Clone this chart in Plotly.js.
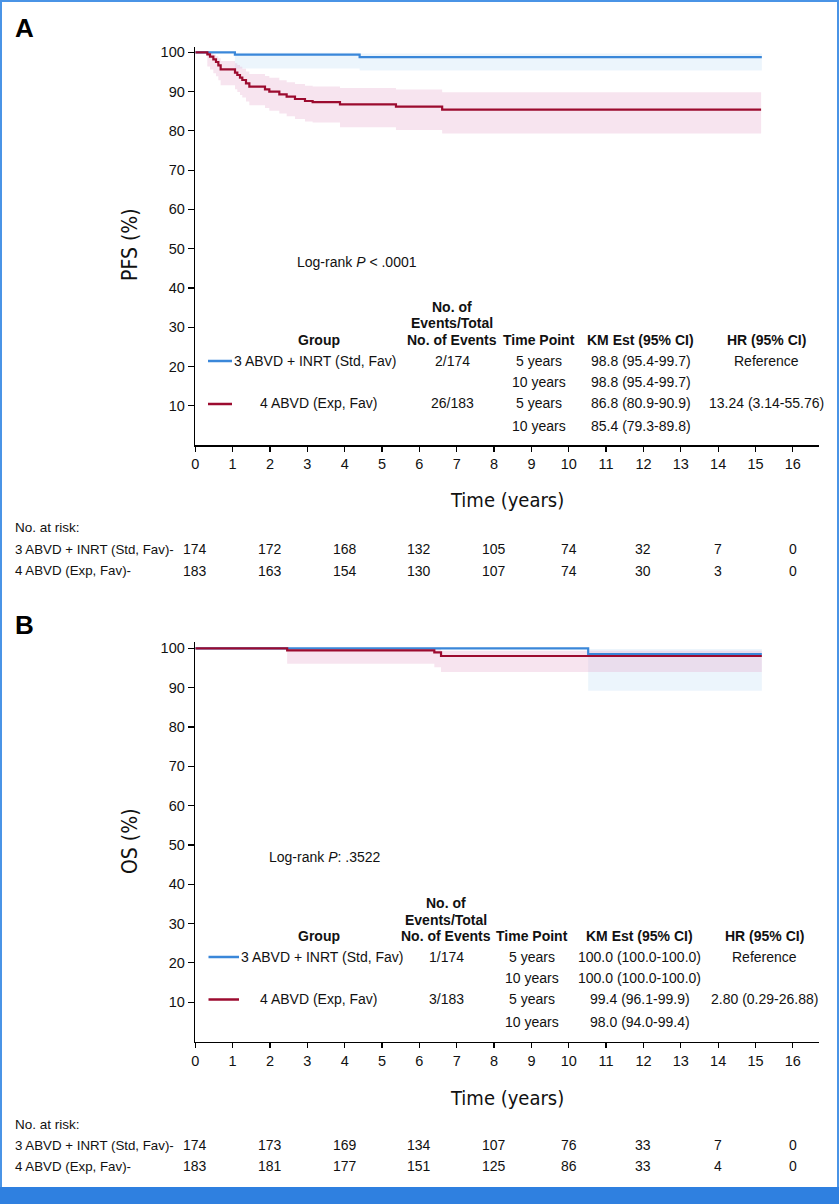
<!DOCTYPE html>
<html>
<head>
<meta charset="utf-8">
<script src="https://cdn.plot.ly/plotly-3.0.1.min.js"></script>
<style>html,body{margin:0;padding:0;background:#fff;}#chart{width:839px;height:1204px;}</style>
</head>
<body>
<div id="chart"></div>
<script>
// ---------- Panel A: PFS ----------
var pfsStdTime = [0, 1.06, 4.40, 15.17];
var pfsStdSurv = [100, 99.4, 98.8, 98.8];
var pfsStdBandTime = [1.06, 4.40, 15.17];
var pfsStdLo = [95.9, 95.4, 95.4];
var pfsStdHi = [99.9, 99.7, 99.7];

var pfsExpTime = [0, 0.322, 0.394, 0.483, 0.554, 0.617, 0.679, 1.063, 1.125, 1.197, 1.259, 1.357, 1.447, 1.866, 1.982, 2.25, 2.446, 2.669, 2.937, 3.142, 3.874, 5.373, 6.61, 15.15];
var pfsExpSurv = [100, 99.48, 98.89, 98.21, 97.53, 96.68, 95.66, 94.81, 94.22, 93.54, 92.95, 92.10, 91.25, 90.57, 89.97, 89.30, 88.70, 88.11, 87.60, 87.34, 86.75, 86.16, 85.4, 85.4];
var pfsExpLo = [100, 96.4, 95.6, 94.7, 93.9, 92.9, 91.6, 90.6, 89.9, 89.1, 88.5, 87.5, 86.5, 85.8, 85.1, 84.4, 83.7, 83.0, 82.4, 82.1, 80.9, 80.2, 79.3, 79.3];
var pfsExpHi = [100, 99.9, 99.7, 99.4, 99.0, 98.5, 97.8, 97.2, 96.8, 96.3, 95.8, 95.1, 94.5, 94.0, 93.5, 92.9, 92.4, 91.9, 91.5, 91.3, 90.9, 90.5, 89.8, 89.8];

// ---------- Panel B: OS ----------
var osStdTime = [0, 10.52, 15.17];
var osStdSurv = [100, 98.55, 98.55];
var osStdBandTime = [10.52, 15.17];
var osStdLo = [89.2, 89.2];
var osStdHi = [99.8, 99.8];

var osExpTime = [0, 2.46, 6.40, 6.58, 15.17];
var osExpSurv = [100, 99.45, 98.95, 98.04, 98.04];
var osExpLo = [100, 96.1, 95.2, 94.0, 94.0];
var osExpHi = [100, 99.9, 99.8, 99.4, 99.4];

// ---------- Numbers at risk ----------
var riskTimes = [0, 2, 4, 6, 8, 10, 12, 14, 16];
var pfsRiskStd = [174, 172, 168, 132, 105, 74, 32, 7, 0];
var pfsRiskExp = [183, 163, 154, 130, 107, 74, 30, 3, 0];
var osRiskStd = [174, 173, 169, 134, 107, 76, 33, 7, 0];
var osRiskExp = [183, 181, 177, 151, 125, 86, 33, 4, 0];

var groupLabels = ['3 ABVD + INRT (Std, Fav)', '4 ABVD (Exp, Fav)'];
var xTicks = [0,1,2,3,4,5,6,7,8,9,10,11,12,13,14,15,16];
var yTicks = [10,20,30,40,50,60,70,80,90,100];

// table texts
var pfsEvents = ['2/174', '26/183'];
var pfsKM = ['98.8 (95.4-99.7)', '98.8 (95.4-99.7)', '86.8 (80.9-90.9)', '85.4 (79.3-89.8)'];
var pfsHR = ['Reference', '13.24 (3.14-55.76)'];
var osEvents = ['1/174', '3/183'];
var osKM = ['100.0 (100.0-100.0)', '100.0 (100.0-100.0)', '99.4 (96.1-99.9)', '98.0 (94.0-99.4)'];
var osHR = ['Reference', '2.80 (0.29-26.88)'];
var timePoints = ['5 years', '10 years', '5 years', '10 years'];

// ---------- styling ----------
var W = 839, H = 1204;
function px(x){ return x / W; }
function py(y){ return 1 - y / H; }
var BLUE = '#3a87d9', RED = '#9c0b2f';
var BLUEBAND = 'rgba(200,225,245,0.34)', REDBAND = 'rgba(230,170,205,0.32)';
var FONT = 'Liberation Sans, Arial, Helvetica, sans-serif';
var NARROW = 'Liberation Sans Narrow, Arial Narrow, DejaVu Sans Condensed, sans-serif';

function band(t, lo, hi, color, xa, ya){
  return [
    {x: t, y: lo, xaxis: xa, yaxis: ya, mode: 'lines', line: {shape: 'hv', width: 0, color: color}, hoverinfo: 'skip', showlegend: false},
    {x: t, y: hi, xaxis: xa, yaxis: ya, mode: 'lines', line: {shape: 'hv', width: 0, color: color}, fill: 'tonexty', fillcolor: color, hoverinfo: 'skip', showlegend: false}
  ];
}
function curve(t, s, color, xa, ya){
  return {x: t, y: s, xaxis: xa, yaxis: ya, mode: 'lines', line: {shape: 'hv', width: 2.2, color: color}, showlegend: false};
}

var data = [].concat(
  band(pfsStdBandTime, pfsStdLo, pfsStdHi, BLUEBAND, 'x', 'y'),
  band(pfsExpTime, pfsExpLo, pfsExpHi, REDBAND, 'x', 'y'),
  [curve(pfsStdTime, pfsStdSurv, BLUE, 'x', 'y'), curve(pfsExpTime, pfsExpSurv, RED, 'x', 'y')],
  band(osStdBandTime, osStdLo, osStdHi, BLUEBAND, 'x2', 'y2'),
  band(osExpTime, osExpLo, osExpHi, REDBAND, 'x2', 'y2'),
  [curve(osStdTime, osStdSurv, BLUE, 'x2', 'y2'), curve(osExpTime, osExpSurv, RED, 'x2', 'y2')]
);

function xAxis(){
  return {domain: [px(195.3), px(818.6)], range: [0, 16.69], showline: true, linecolor: '#000', linewidth: 1.6,
    ticks: 'outside', ticklen: 5, tickwidth: 1.2, tickcolor: '#000', tickvals: xTicks, showgrid: false, zeroline: false,
    tickfont: {family: FONT, size: 14.5, color: '#111'}, fixedrange: true};
}
function yAxis(top, bottom, yTopVal){
  return {domain: [py(bottom), py(top)], range: [0, yTopVal], showline: true, linecolor: '#000', linewidth: 1.6,
    ticks: 'outside', ticklen: 6, tickwidth: 1.2, tickcolor: '#000', tickvals: yTicks, showgrid: false, zeroline: false,
    tickfont: {family: FONT, size: 14.5, color: '#111'}, fixedrange: true};
}

var ann = [];
function txt(x, y, text, opts){
  opts = opts || {};
  ann.push({xref: opts.xref || 'paper', yref: 'paper', x: opts.xref ? x : px(x), y: py(y), text: text, showarrow: false,
    xanchor: opts.anchor || 'center', yanchor: 'middle', textangle: opts.angle || 0,
    font: {family: opts.family || FONT, size: opts.size || 14, color: opts.color || '#111'}});
}

// panel labels
txt(24, 28, '<b>A</b>', {size: 26, color: '#000'});
txt(24, 625, '<b>B</b>', {size: 26, color: '#000'});

// axis titles
txt(130, 245, 'PFS (%)', {size: 21, family: NARROW, angle: -90});
txt(130, 841, 'OS (%)', {size: 21, family: NARROW, angle: -90});
txt(507, 500, 'Time (years)', {size: 20, family: NARROW});
txt(507, 1098, 'Time (years)', {size: 20, family: NARROW});

// log-rank
txt(295, 262, 'Log-rank <i>P</i> < .0001', {anchor: 'left'});
txt(267, 857, 'Log-rank <i>P</i>: .3522', {anchor: 'left'});

// tables
function table(cfg){
  var h = cfg.headY;
  txt(cfg.evX, h[0], '<b>No. of</b>');
  txt(cfg.evX, h[1], '<b>Events/Total</b>');
  txt(cfg.evX, h[2], '<b>No. of Events</b>');
  txt(319, h[2], '<b>Group</b>');
  txt(cfg.tpX, h[2], '<b>Time Point</b>');
  txt(cfg.kmX, h[2], '<b>KM Est (95% CI)</b>');
  txt(cfg.hrX, h[2], '<b>HR (95% CI)</b>');
  var r = cfg.rowY;
  txt(cfg.grpX, r[0], groupLabels[0], {anchor: 'left'});
  txt(318, r[2], groupLabels[1]);
  txt(cfg.evX, r[0], cfg.events[0]);
  txt(cfg.evX, r[2], cfg.events[1]);
  for (var i = 0; i < 4; i++){
    txt(cfg.tpX, r[i], timePoints[i]);
    txt(cfg.kmX, r[i], cfg.km[i]);
  }
  txt(cfg.hrX, r[0], cfg.hr[0]);
  txt(cfg.hrX, r[2], cfg.hr[1]);
}
table({headY: [306.7, 323.3, 340], rowY: [361, 382, 403.5, 426], grpX: 232, evX: 452, tpX: 538.5, kmX: 640.5, hrX: 766,
  events: pfsEvents, km: pfsKM, hr: pfsHR});
table({headY: [903, 920, 936], rowY: [957, 977.5, 999, 1021.5], grpX: 239, evX: 446, tpX: 531.5, kmX: 639.5, hrX: 764,
  events: osEvents, km: osKM, hr: osHR});

// numbers at risk
function atRisk(xa, yHead, y1, y2, r1, r2){
  txt(13, yHead, 'No. at risk:', {anchor: 'left', size: 13.5});
  txt(13, y1, groupLabels[0] + '-', {anchor: 'left', size: 13.3});
  txt(13, y2, groupLabels[1] + '-', {anchor: 'left', size: 13.3});
  for (var i = 0; i < riskTimes.length; i++){
    txt(riskTimes[i], y1, String(r1[i]), {xref: xa});
    txt(riskTimes[i], y2, String(r2[i]), {xref: xa});
  }
}
atRisk('x', 527, 549, 570.5, pfsRiskStd, pfsRiskExp);
atRisk('x2', 1124, 1145, 1166, osRiskStd, osRiskExp);

var shapes = [
  // legend keys in tables
  {type: 'line', xref: 'paper', yref: 'paper', x0: px(208), x1: px(232), y0: py(361), y1: py(361), line: {color: BLUE, width: 2.5}},
  {type: 'line', xref: 'paper', yref: 'paper', x0: px(208), x1: px(232), y0: py(404), y1: py(404), line: {color: RED, width: 2.5}},
  {type: 'line', xref: 'paper', yref: 'paper', x0: px(208.5), x1: px(239), y0: py(957), y1: py(957), line: {color: BLUE, width: 2.5}},
  {type: 'line', xref: 'paper', yref: 'paper', x0: px(208.5), x1: px(239), y0: py(999.5), y1: py(999.5), line: {color: RED, width: 2.5}},
  // frame and footer bar
  {type: 'rect', xref: 'paper', yref: 'paper', x0: px(1), x1: px(838), y0: py(1188), y1: py(1), line: {color: '#4a94e6', width: 2}, fillcolor: 'rgba(0,0,0,0)', layer: 'below'},
  {type: 'rect', xref: 'paper', yref: 'paper', x0: 0, x1: 1, y0: 0, y1: py(1187), line: {width: 0}, fillcolor: '#2f80e0'}
];

var layout = {
  width: W, height: H, margin: {l: 0, r: 0, t: 0, b: 0}, paper_bgcolor: '#fff', plot_bgcolor: 'rgba(0,0,0,0)',
  showlegend: false,
  xaxis: Object.assign(xAxis(), {anchor: 'y'}),
  yaxis: Object.assign(yAxis(46.7, 445, 101.43), {anchor: 'x'}),
  xaxis2: Object.assign(xAxis(), {anchor: 'y2'}),
  yaxis2: Object.assign(yAxis(641.7, 1041.5, 101.68), {anchor: 'x2'}),
  annotations: ann,
  shapes: shapes
};

Plotly.newPlot('chart', data, layout, {displayModeBar: false, staticPlot: true});
</script>
</body>
</html>
